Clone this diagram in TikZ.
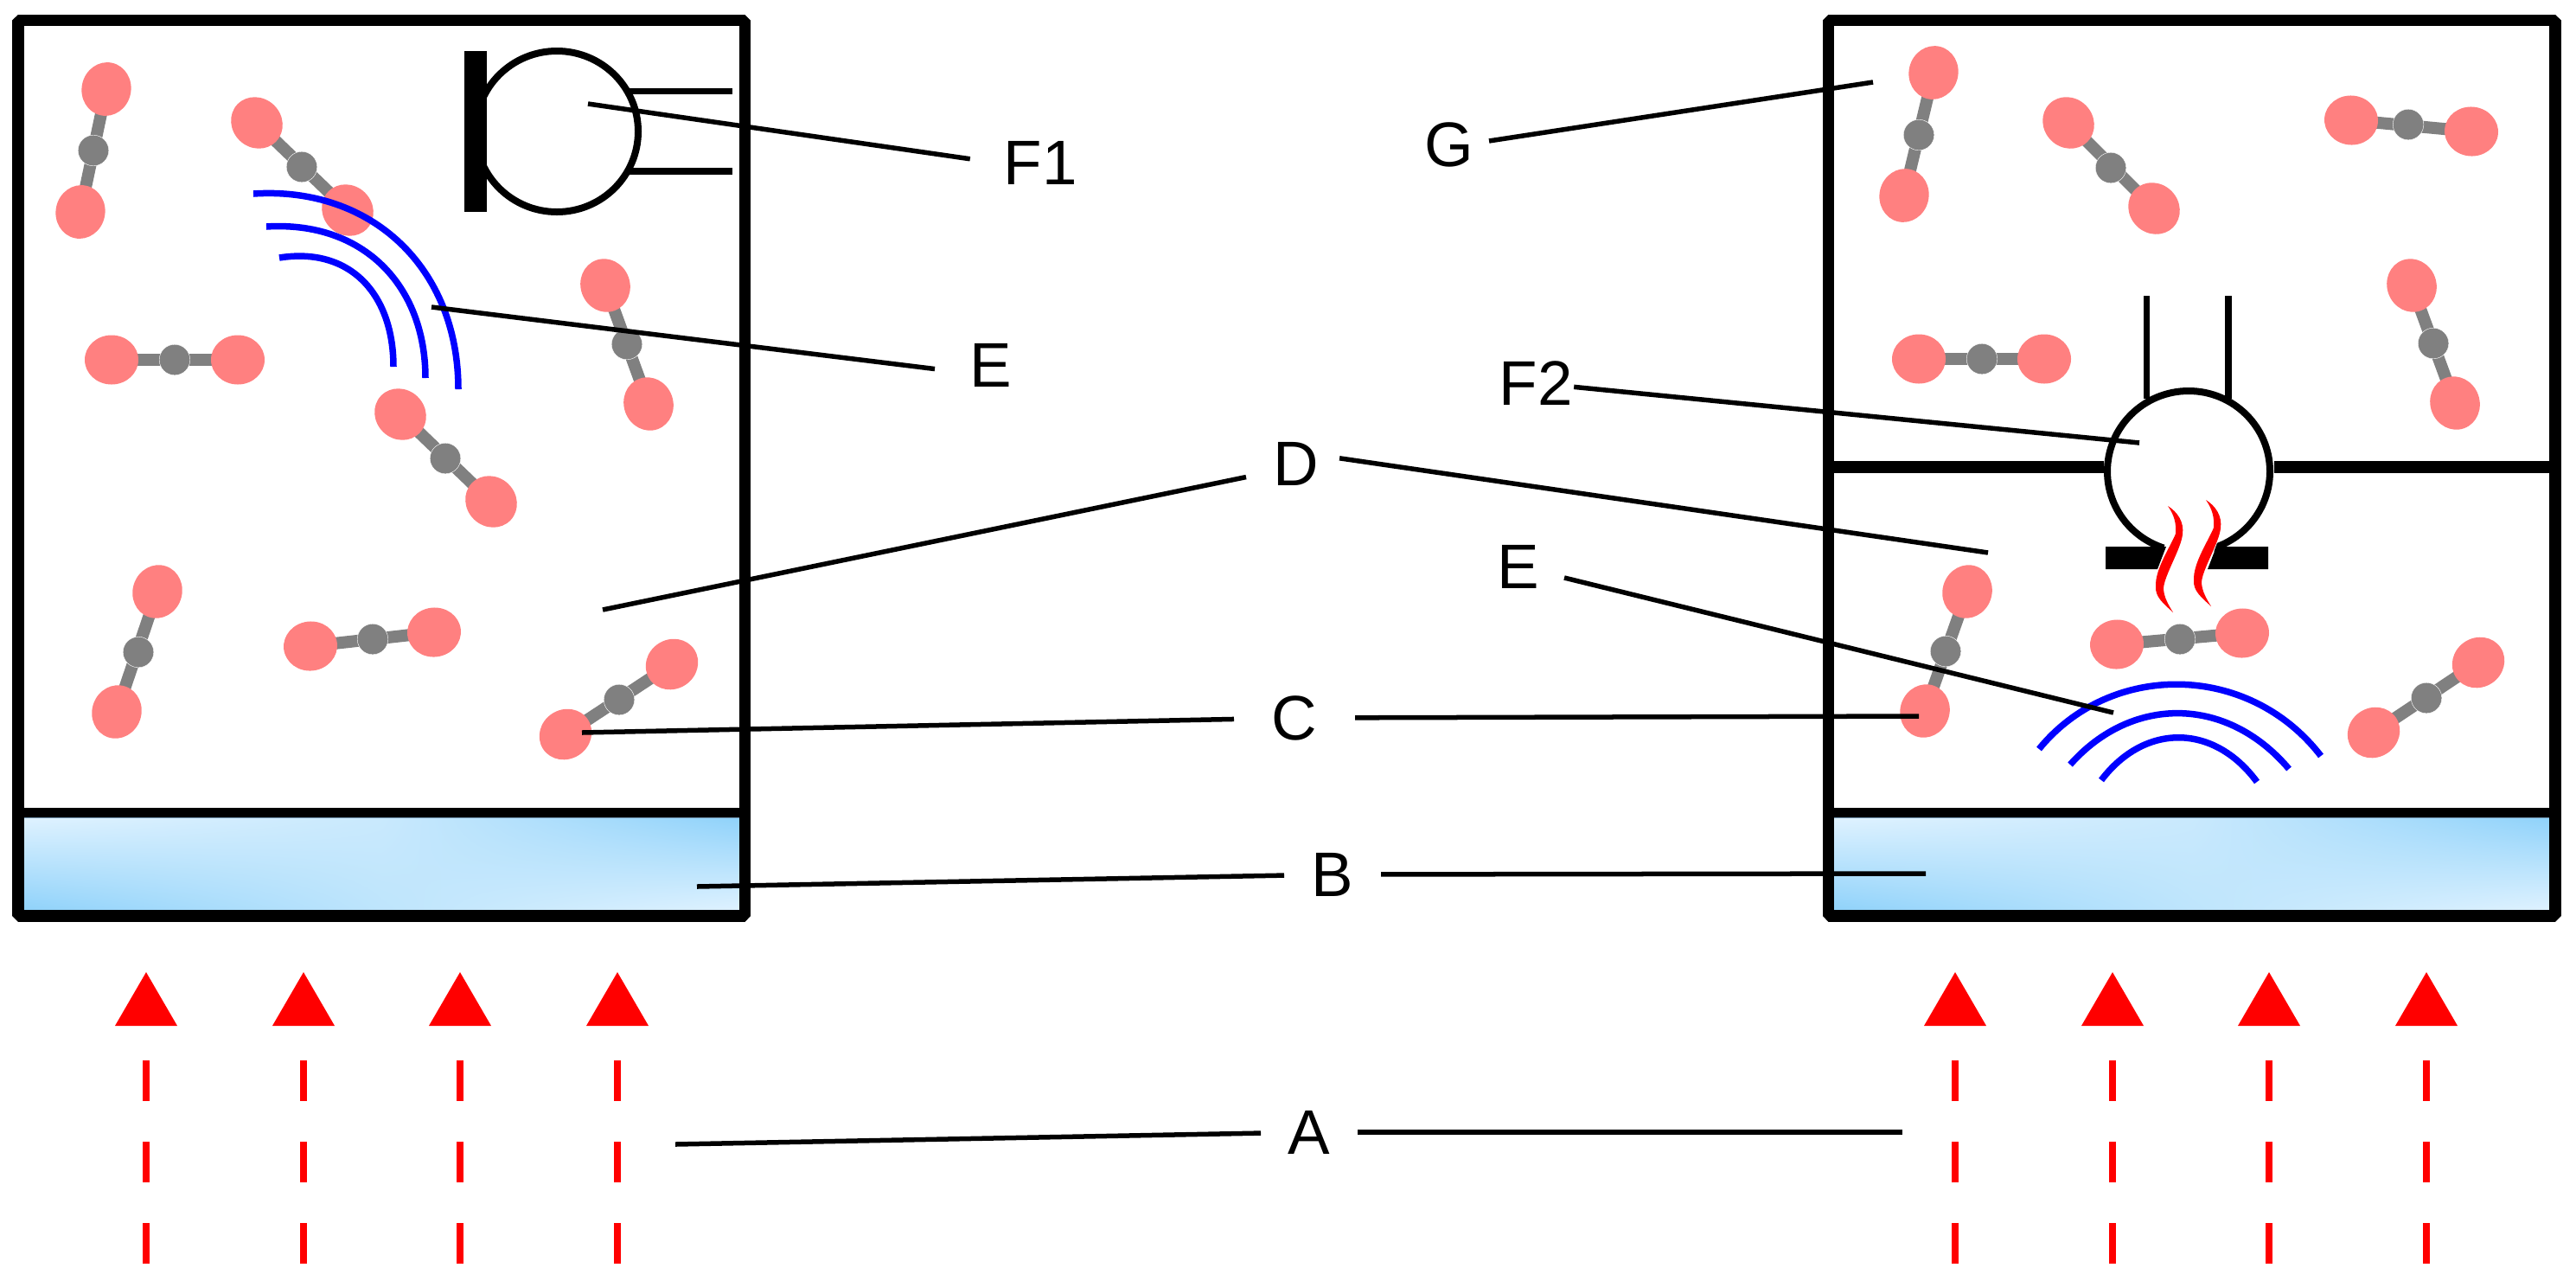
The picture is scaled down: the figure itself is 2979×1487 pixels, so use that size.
\documentclass[tikz,border=0pt]{standalone}
\usepackage{fontspec}
\usetikzlibrary{shadings}
\setmainfont{Liberation Sans}
\definecolor{oxyc}{HTML}{FF8080}
\definecolor{bondc}{HTML}{808080}
\definecolor{pale}{HTML}{DFF2FF}
\definecolor{deep}{HTML}{8FD2FA}
\definecolor{midA}{HTML}{C9E9FD}
\definecolor{midB}{HTML}{BEE5FC}
\definecolor{edge}{HTML}{6A8BA5}
\tikzset{
  x=0.01cm,y=-0.01cm,
  frame/.style={line width=13.4*0.2845pt,line join=bevel},
  floor/.style={line width=11*0.2845pt},
  wall/.style={line width=13.5*0.2845pt},
  leader/.style={line width=5.5*0.2845pt,black},
  lbl/.style={inner xsep=#1*0.2845pt,inner ysep=8*0.2845pt,font=\fontsize{20.7pt}{24pt}\selectfont},
  oxy/.style={fill=oxyc},
  carb/.style={fill=bondc,draw=white,line width=0.12pt},
  bond/.style={draw=bondc,line width=14*0.2845pt},
  wave/.style={draw=blue,line width=7.5*0.2845pt},
  stub/.style={line width=7.5*0.2845pt},
  bulb/.style={line width=8*0.2845pt,fill=white},
  heat/.style={line width=8*0.2845pt,red},
  waterL/.style={upper left=pale,lower left=deep,upper right=midA,lower right=midB},
  waterR/.style={upper left=midA,lower left=midB,upper right=deep,lower right=pale}
}
\newcommand{\mol}[6]{%
  \pgfmathsetmacro{\ang}{atan2(-(#6-(#2)),#5-(#1))}%
  \draw[bond] (#1,#2) -- (#5,#6);
  \path[oxy,rotate around={\ang:(#1,#2)}] (#1,#2) ellipse [x radius=31,y radius=28.5];
  \path[oxy,rotate around={\ang:(#5,#6)}] (#5,#6) ellipse [x radius=31,y radius=28.5];
  \path[carb] (#3,#4) circle [radius=17.8];
}
\newcommand{\flame}{%
  \fill[red] (2507,585) .. controls (2518,592) and (2526,603) .. (2524,618)
    .. controls (2522,635) and (2503,665) .. (2502,680)
    .. controls (2502,690) and (2508,700) .. (2513,708)
    .. controls (2502,698) and (2492,690) .. (2493,678)
    .. controls (2492,658) and (2510,632) .. (2516,617)
    .. controls (2517,605) and (2514,595) .. (2507,585) -- cycle;
}
\begin{document}
\begin{tikzpicture}
\useasboundingbox (0,0) rectangle (2979,1487);
\fill[white] (0,0) rectangle (2979,1487);

% water layers
\shade[waterL] (27,945) rectangle (441.5,1053);
\shade[waterR] (441,945) rectangle (856,1053);
\shade[waterL] (2121,945) rectangle (2535.5,1053);
\shade[waterR] (2535,945) rectangle (2949,1053);
\draw[edge,line width=0.4pt] (24,945.4) rectangle (858,1052.2);
\draw[edge,line width=0.4pt] (2118,945.4) rectangle (2952,1052.2);

% left molecules
\mol{123}{103}{108}{174}{93}{245}
\mol{297}{142}{349}{193}{402}{243}
\mol{129}{416}{202}{416}{275}{416}
\mol{700}{330}{725}{398}{750}{467}
\mol{463}{479}{515}{530}{568}{580}
\mol{182}{684}{160}{754}{135}{823}
\mol{359}{747}{431}{739}{502}{731}
\mol{654}{849}{716}{809}{777}{768}

% right molecules
\mol{2236}{84}{2219}{156}{2202}{226}
\mol{2392}{142}{2441}{194}{2491}{241}
\mol{2719}{139}{2785}{144}{2858}{152}
\mol{2219}{415}{2292}{415}{2364}{415}
\mol{2789}{330}{2814}{397}{2839}{466}
\mol{2275}{684}{2250}{753}{2226}{822}
\mol{2448}{745}{2521}{739}{2593}{732}
\mol{2745}{847}{2806}{807}{2866}{766}

% left emitter
\draw[stub] (726,105.5) -- (847,105.5);
\draw[stub] (726,198) -- (847,198);
\draw[bulb] (644,152) ellipse [x radius=94,y radius=93];
\fill (537,59) rectangle (563,245);

% left waves
\draw[wave] (293,224) .. controls (430,215) and (530,310) .. (530,450);
\draw[wave] (308,262) .. controls (420,255) and (492,330) .. (492,437);
\draw[wave] (323,298) .. controls (405,285) and (455,340) .. (455,424);

% right chamber wall
\draw[wall] (2121,540) -- (2433,540);
\draw[wall] (2630,540) -- (2949,540);
\draw[stub] (2482.5,342) -- (2482.5,461);
\draw[stub] (2577,342) -- (2577,461);
\draw[bulb] (2531,545) ellipse [x radius=94,y radius=93];
\fill[white] (2506,622) -- (2566,622) -- (2552,660) -- (2494,660) -- cycle;
\fill (2435,632) -- (2505,632) -- (2495,658) -- (2435,658) -- cycle;
\fill (2563,632) -- (2623,632) -- (2623,658) -- (2553,658) -- cycle;
\flame
\begin{scope}[shift={(44,-7)}]\flame\end{scope}

% right waves
\draw[wave] (2358,866) .. controls (2440,765) and (2600,765) .. (2684,874);
\draw[wave] (2394,884) .. controls (2465,804) and (2575,804) .. (2647,889);
\draw[wave] (2430,902) .. controls (2480,836) and (2560,836) .. (2610,904);

% frames
\foreach \l/\r in {20.8/861.7,2114.7/2955}{
  \draw[frame] (\l,23.7) rectangle (\r,1059);
  \draw[floor] (\l,939.5) -- (\r,939.5);
}

% radiation arrows
\foreach \c in {169,351,532,714,2261,2443,2624,2806}{
  \fill[red] (\c,1124) -- (\c+36,1186) -- (\c-36,1186) -- cycle;
  \draw[heat] (\c,1226) -- (\c,1273);
  \draw[heat] (\c,1320) -- (\c,1367);
  \draw[heat] (\c,1414) -- (\c,1461);
}

% labels
\node[lbl=31] (A)  at (1514,1309) {A};
\node[lbl=31] (B)  at (1541,1011) {B};
\node[lbl=43] (C)  at (1497,830)  {C};
\node[lbl=31] (D)  at (1499,536)  {D};
\node[lbl=40] (E1) at (1146,422)  {E};
\node[lbl=28] (E2) at (1756,655)  {E};
\node[lbl=38] (F1) at (1203,188)  {F1};
\node[lbl=1]  (F2) at (1776,443)  {F2};
\node[lbl=17] (G)  at (1676,167)  {G};

% leader ends
\coordinate (aL) at (781,1323);
\coordinate (aR) at (2200,1309);
\coordinate (bL) at (806,1025);
\coordinate (bR) at (2227,1010);
\coordinate (cL) at (673,847);
\coordinate (cR) at (2219,828);
\coordinate (dL) at (697,705);
\coordinate (dR) at (2299,639);
\coordinate (eL) at (499,355);
\coordinate (eR) at (2444,824);
\coordinate (f1) at (680,120);
\coordinate (f2) at (2474,512);
\coordinate (gR) at (2166,95);

\draw[leader] (A) -- (aL);
\draw[leader] (A) -- (aR);
\draw[leader] (B) -- (bL);
\draw[leader] (B) -- (bR);
\draw[leader] (C) -- (cL);
\draw[leader] (C) -- (cR);
\draw[leader] (D.195.7) -- (dL);
\draw[leader,shorten <=-8*0.2845pt] (D.5.8) -- (dR);
\draw[leader] (E1.184.5) -- (eL);
\draw[leader] (E2) -- (eR);
\draw[leader] (F1.177) -- (f1);
\draw[leader] (F2) -- (f2);
\draw[leader] (G.5) -- (gR);
\end{tikzpicture}
\end{document}
